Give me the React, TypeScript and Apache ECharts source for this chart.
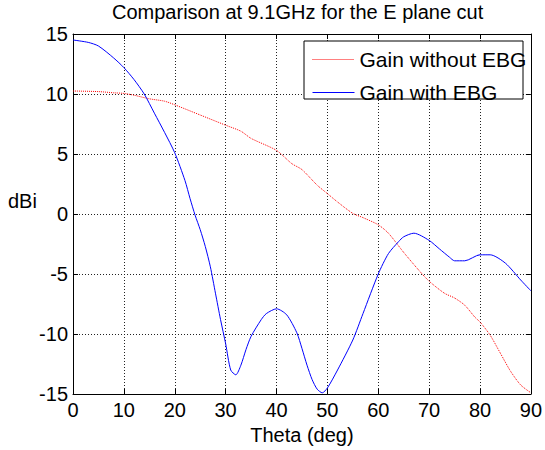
import React, { useEffect, useRef } from "react";
import * as echarts from "echarts";

const titleText = "Comparison at 9.1GHz for the E plane cut";
const xLabel = "Theta (deg)";
const yLabel = "dBi";
const seriesNames = ["Gain without EBG", "Gain with EBG"];

const thetaNoEbg = [0, 5, 8, 10, 12, 15, 18, 20, 25, 30, 33, 35, 40, 43, 45, 48, 50, 52, 55, 57, 60, 62, 65, 68, 70, 73, 75, 77, 79, 80, 82, 84, 86, 88, 90];
const gainNoEbg = [10.25, 10.2, 10.1, 10.05, 9.9, 9.6, 9.4, 9.1, 8.25, 7.4, 6.9, 6.3, 5.3, 4.2, 3.7, 2.4, 1.7, 1.0, 0.05, -0.3, -0.9, -1.6, -3.2, -4.7, -5.6, -6.6, -7.0, -7.6, -8.6, -9.0, -10.1, -11.6, -13.1, -14.25, -14.9];

const thetaEbg = [0, 3, 5, 8, 10, 12, 14, 16, 18, 20, 22, 23, 24, 25, 26, 27, 28, 29, 30, 31, 32, 33, 34, 35, 37, 38, 40, 42, 44, 45, 46, 47, 48, 49, 50, 52, 55, 57, 60, 62, 64, 65, 67, 70, 72, 74, 75, 77, 80, 82, 85, 88, 90];
const gainEbg = [14.5, 14.3, 14.0, 13.0, 12.2, 11.2, 10.0, 8.4, 6.8, 5.1, 2.8, 1.3, -0.1, -1.3, -2.7, -4.4, -6.6, -8.8, -10.8, -13.0, -13.4, -12.6, -11.3, -10.2, -8.8, -8.3, -7.9, -8.4, -9.9, -11.2, -12.6, -13.8, -14.6, -14.9, -14.5, -13.0, -10.5, -8.3, -5.0, -3.3, -2.3, -1.9, -1.6, -2.2, -2.9, -3.6, -3.9, -3.9, -3.4, -3.4, -4.1, -5.5, -6.4];

const xMin = 0, xMax = 90, xStep = 10;
const yMin = -15, yMax = 15, yStep = 5;

const FONT = "'Liberation Sans', Arial, Helvetica, sans-serif";

export default function App() {
  const ref = useRef<HTMLDivElement>(null);
  useEffect(() => {
    document.body.style.margin = "0";
    const chart = echarts.init(ref.current!, null, { renderer: "svg" });
    const gridLine = { show: true, lineStyle: { color: "#222", type: [1, 2], width: 1 } };
    const axisLine = { show: true, onZero: false, lineStyle: { color: "#000", width: 1 } };
    const axisTick = { show: true, inside: true, length: 5, lineStyle: { color: "#000" } };
    const hiddenAxisCommon = {
      axisLine,
      axisTick,
      axisLabel: { show: false },
      splitLine: { show: false },
    };
    chart.setOption({
      animation: false,
      backgroundColor: "#fff",
      textStyle: { fontFamily: FONT },
      title: {
        text: titleText,
        left: 112,
        top: 2,
        padding: 0,
        textStyle: { fontFamily: FONT, fontSize: 20, fontWeight: "normal", color: "#000" },
      },
      grid: { left: 73, top: 34, width: 460, height: 360, containLabel: false },
      legend: {
        orient: "vertical",
        left: 312,
        top: 49,
        padding: 0,
        itemWidth: 42,
        itemHeight: 14,
        itemGap: 12,
        itemStyle: { opacity: 0 },
        textStyle: { fontFamily: FONT, fontSize: 21, color: "#000" },
        data: [
          { name: seriesNames[0], lineStyle: { width: 1, type: [1, 1], color: "#ff0000" } },
          { name: seriesNames[1], lineStyle: { width: 1, type: "solid", color: "#0000ff" } },
        ],
        z: 5,
      },
      graphic: [
        {
          type: "rect",
          shape: { x: 304, y: 41, width: 219, height: 58 },
          style: { fill: "#fff", stroke: "#000", lineWidth: 1 },
          z: 4,
        },
        {
          type: "text",
          x: 8,
          y: 201,
          style: { text: yLabel, fontFamily: FONT, fontSize: 20, fill: "#000", verticalAlign: "middle", align: "left" },
        },
      ],
      xAxis: [
        {
          type: "value",
          min: xMin,
          max: xMax,
          interval: xStep,
          position: "bottom",
          name: xLabel,
          nameLocation: "middle",
          nameGap: 27,
          nameTextStyle: { fontFamily: FONT, fontSize: 20, color: "#000" },
          axisLine,
          axisTick,
          axisLabel: { fontFamily: FONT, fontSize: 20, color: "#000", margin: 6 },
          splitLine: gridLine,
        },
        { type: "value", min: xMin, max: xMax, interval: xStep, position: "top", ...hiddenAxisCommon },
      ],
      yAxis: [
        {
          type: "value",
          min: yMin,
          max: yMax,
          interval: yStep,
          position: "left",
          axisLine,
          axisTick,
          axisLabel: { fontFamily: FONT, fontSize: 20, color: "#000", margin: 5 },
          splitLine: gridLine,
        },
        { type: "value", min: yMin, max: yMax, interval: yStep, position: "right", ...hiddenAxisCommon },
      ],
      series: [
        {
          name: seriesNames[0],
          type: "line",
          data: thetaNoEbg.map((t, i) => [t, gainNoEbg[i]]),
          symbol: "none",
          smooth: 0.25,
          lineStyle: { color: "#ff0000", width: 1, type: [1, 1] },
          itemStyle: { color: "#ff0000" },
          z: 2,
        },
        {
          name: seriesNames[1],
          type: "line",
          data: thetaEbg.map((t, i) => [t, gainEbg[i]]),
          symbol: "none",
          smooth: 0.25,
          lineStyle: { color: "#0000ff", width: 1 },
          itemStyle: { color: "#0000ff" },
          z: 2,
        },
      ],
    });
    return () => chart.dispose();
  }, []);
  return <div ref={ref} style={{ width: 545, height: 450 }} />;
}
